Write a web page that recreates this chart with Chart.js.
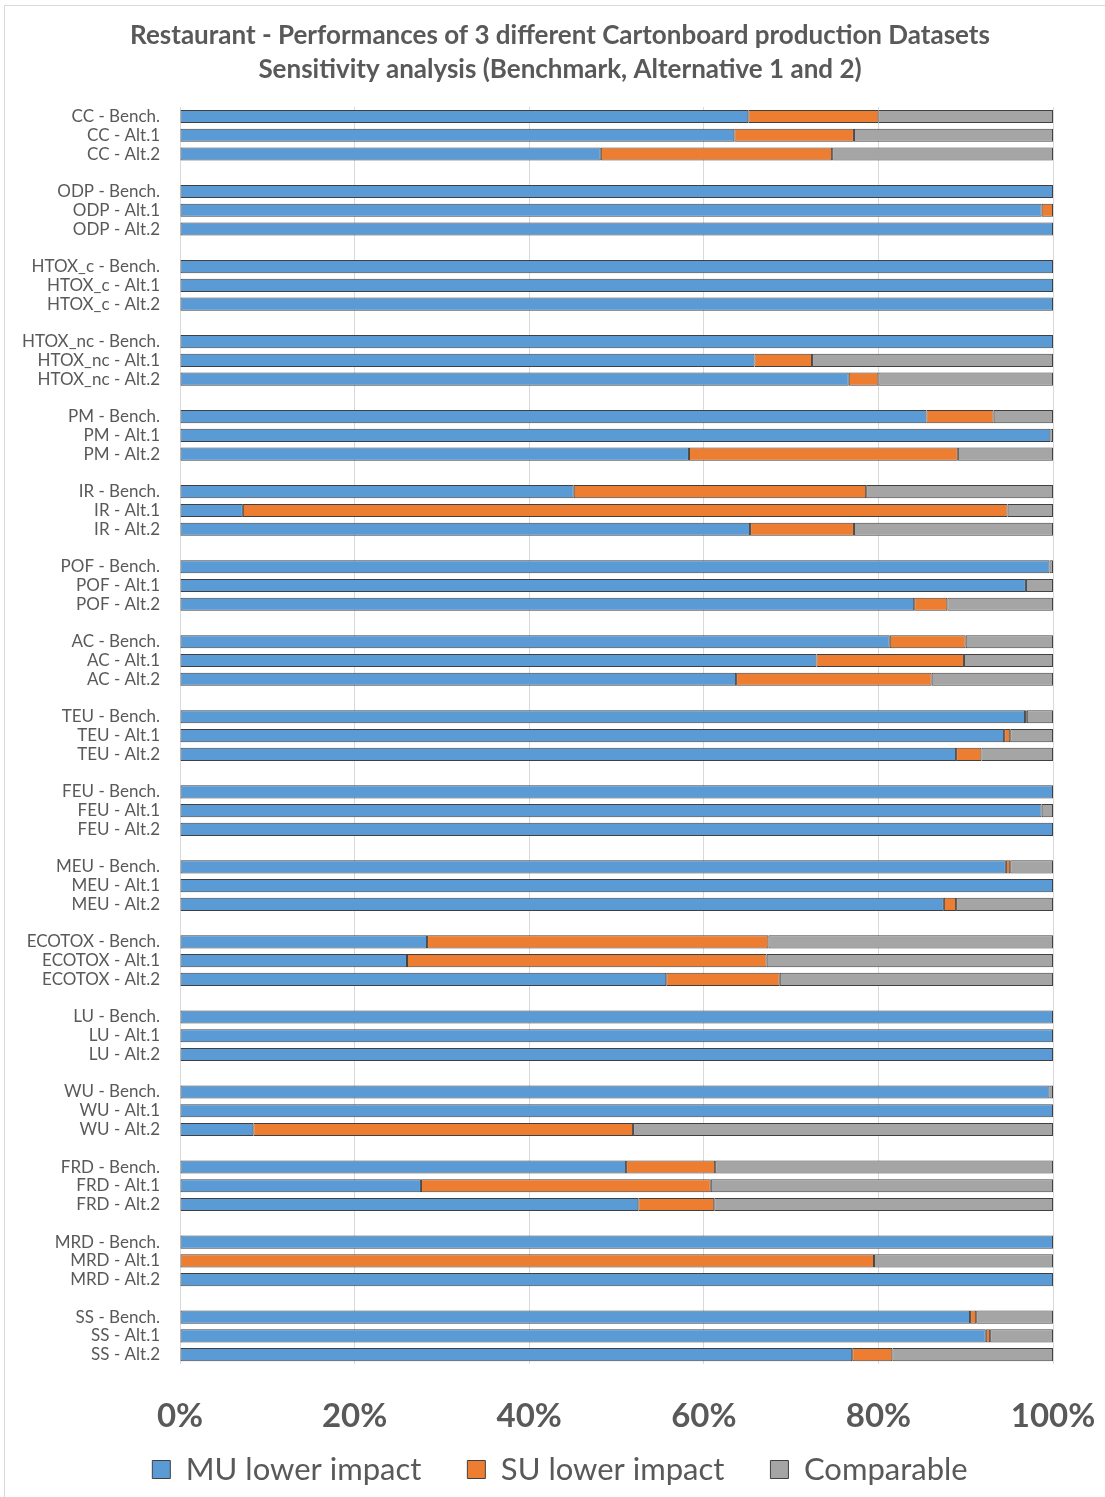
<!DOCTYPE html>
<html>
<head>
<meta charset="utf-8">
<script src="https://cdn.jsdelivr.net/npm/chart.js@4/dist/chart.umd.min.js"></script>
<style>
  body { margin: 0; background: #fff; }
  canvas { display: block; }
</style>
</head>
<body>
<canvas id="chart" width="1105" height="1497"></canvas>
<script>
const impactCategories = ['CC', 'ODP', 'HTOX_c', 'HTOX_nc', 'PM', 'IR', 'POF', 'AC', 'TEU', 'FEU', 'MEU', 'ECOTOX', 'LU', 'WU', 'FRD', 'MRD', 'SS'];
const variants = ['Bench.', 'Alt.1', 'Alt.2'];

// one value per category/variant, in the order above (Bench., Alt.1, Alt.2)
const muLower = [
  65.1, 63.5, 48.2,
  100, 98.7, 100,
  100, 100, 100,
  100, 65.8, 76.6,
  85.5, 99.7, 58.3,
  45.1, 7.2, 65.3,
  99.6, 96.9, 84.1,
  81.3, 72.9, 63.7,
  96.8, 94.4, 88.9,
  100, 98.7, 100,
  94.6, 100, 87.5,
  28.3, 26.0, 55.7,
  100, 100, 100,
  99.6, 100, 8.4,
  51.1, 27.6, 52.5,
  100, 0, 100,
  90.5, 92.3, 77.0
];
const suLower = [
  14.9, 13.7, 26.5,
  0, 1.3, 0,
  0, 0, 0,
  0, 6.6, 3.4,
  7.7, 0, 30.8,
  33.5, 87.6, 11.9,
  0, 0, 3.8,
  8.7, 16.9, 22.4,
  0.2, 0.7, 2.9,
  0, 0, 0,
  0.5, 0, 1.4,
  39.1, 41.2, 13.0,
  0, 0, 0,
  0, 0, 43.5,
  10.2, 33.2, 8.7,
  0, 79.5, 0,
  0.7, 0.5, 4.6
];
const comparable = [
  20.0, 22.8, 25.3,
  0, 0, 0,
  0, 0, 0,
  0, 27.6, 20.0,
  6.8, 0.3, 10.9,
  21.4, 5.2, 22.8,
  0.4, 3.1, 12.1,
  10.0, 10.2, 13.9,
  3.0, 4.9, 8.2,
  0, 1.3, 0,
  4.9, 0, 11.1,
  32.6, 32.8, 31.3,
  0, 0, 0,
  0.4, 0, 48.1,
  38.7, 39.2, 38.8,
  0, 20.5, 0,
  8.8, 7.2, 18.4
];
const xTicks = [0, 20, 40, 60, 80, 100];

// build rows with an empty spacer row between groups
const labels = [];
const rowIndex = [];
impactCategories.forEach((cat, c) => {
  if (c > 0) { labels.push(''); rowIndex.push(-1); }
  variants.forEach((v, j) => {
    labels.push(cat + ' - ' + v);
    rowIndex.push(c * 3 + j);
  });
});
const pick = (arr) => rowIndex.map(i => (i < 0 ? null : arr[i]));

const FONT = "Lato, 'Liberation Sans', sans-serif";
const GREY = '#595959';

const framePlugin = {
  id: 'frame',
  beforeDraw(chart) {
    const ctx = chart.ctx;
    ctx.save();
    ctx.fillStyle = '#fff';
    ctx.fillRect(0, 0, chart.width, chart.height);
    ctx.strokeStyle = '#d9d9d9';
    ctx.lineWidth = 1;
    ctx.strokeRect(4.5, 5.5, 1120, 1520);
    ctx.restore();
  }
};

// let tick labels spill out of the (fixed size) axis boxes
const noLabelClip = (scale) => { scale._computeLabelArea = () => undefined; };

const barStyle = { borderColor: '#404040', borderWidth: 1, borderSkipped: false, barPercentage: 0.7, categoryPercentage: 1 };

new Chart(document.getElementById('chart'), {
  type: 'bar',
  data: {
    labels: labels,
    datasets: [
      { label: 'MU lower impact', data: pick(muLower), backgroundColor: '#5B9BD5', ...barStyle },
      { label: 'SU lower impact', data: pick(suLower), backgroundColor: '#ED7D31', ...barStyle },
      { label: 'Comparable', data: pick(comparable), backgroundColor: '#A5A5A5', ...barStyle }
    ]
  },
  plugins: [framePlugin],
  options: {
    indexAxis: 'y',
    responsive: false,
    animation: false,
    devicePixelRatio: 1,
    layout: { padding: { top: 2, left: 67, right: 52, bottom: 2 } },
    scales: {
      x: {
        stacked: true,
        min: 0,
        max: 100,
        afterBuildTicks: (scale) => { scale.ticks = xTicks.map(v => ({ value: v })); },
        afterFit: (scale) => {
          scale.height = 44;
          scale.paddingLeft = 0;
          scale.paddingRight = 0;
          noLabelClip(scale);
        },
        ticks: {
          callback: (v) => v + '%',
          color: GREY,
          font: { family: FONT, size: 33, weight: 'bold' },
          padding: 33,
          maxRotation: 0
        },
        grid: { color: '#d9d9d9', drawTicks: false },
        border: { display: false }
      },
      y: {
        stacked: true,
        afterFit: (scale) => {
          scale.width = 113;
          noLabelClip(scale);
        },
        ticks: {
          color: GREY,
          font: { family: FONT, size: 17 },
          padding: 12,
          autoSkip: false
        },
        grid: { display: false },
        border: { display: false }
      }
    },
    plugins: {
      title: {
        display: true,
        text: ['Restaurant - Performances of 3 different Cartonboard production Datasets', 'Sensitivity analysis (Benchmark, Alternative 1 and 2)'],
        color: GREY,
        font: { family: FONT, size: 26, weight: 'bold', lineHeight: 1.31 },
        padding: { top: 17, bottom: 20 }
      },
      legend: {
        position: 'bottom',
        labels: {
          color: GREY,
          font: { family: FONT, size: 31 },
          boxWidth: 18,
          boxHeight: 18,
          padding: 46,
          useBorderRadius: false
        }
      },
      tooltip: { enabled: false }
    }
  }
});
</script>
</body>
</html>
